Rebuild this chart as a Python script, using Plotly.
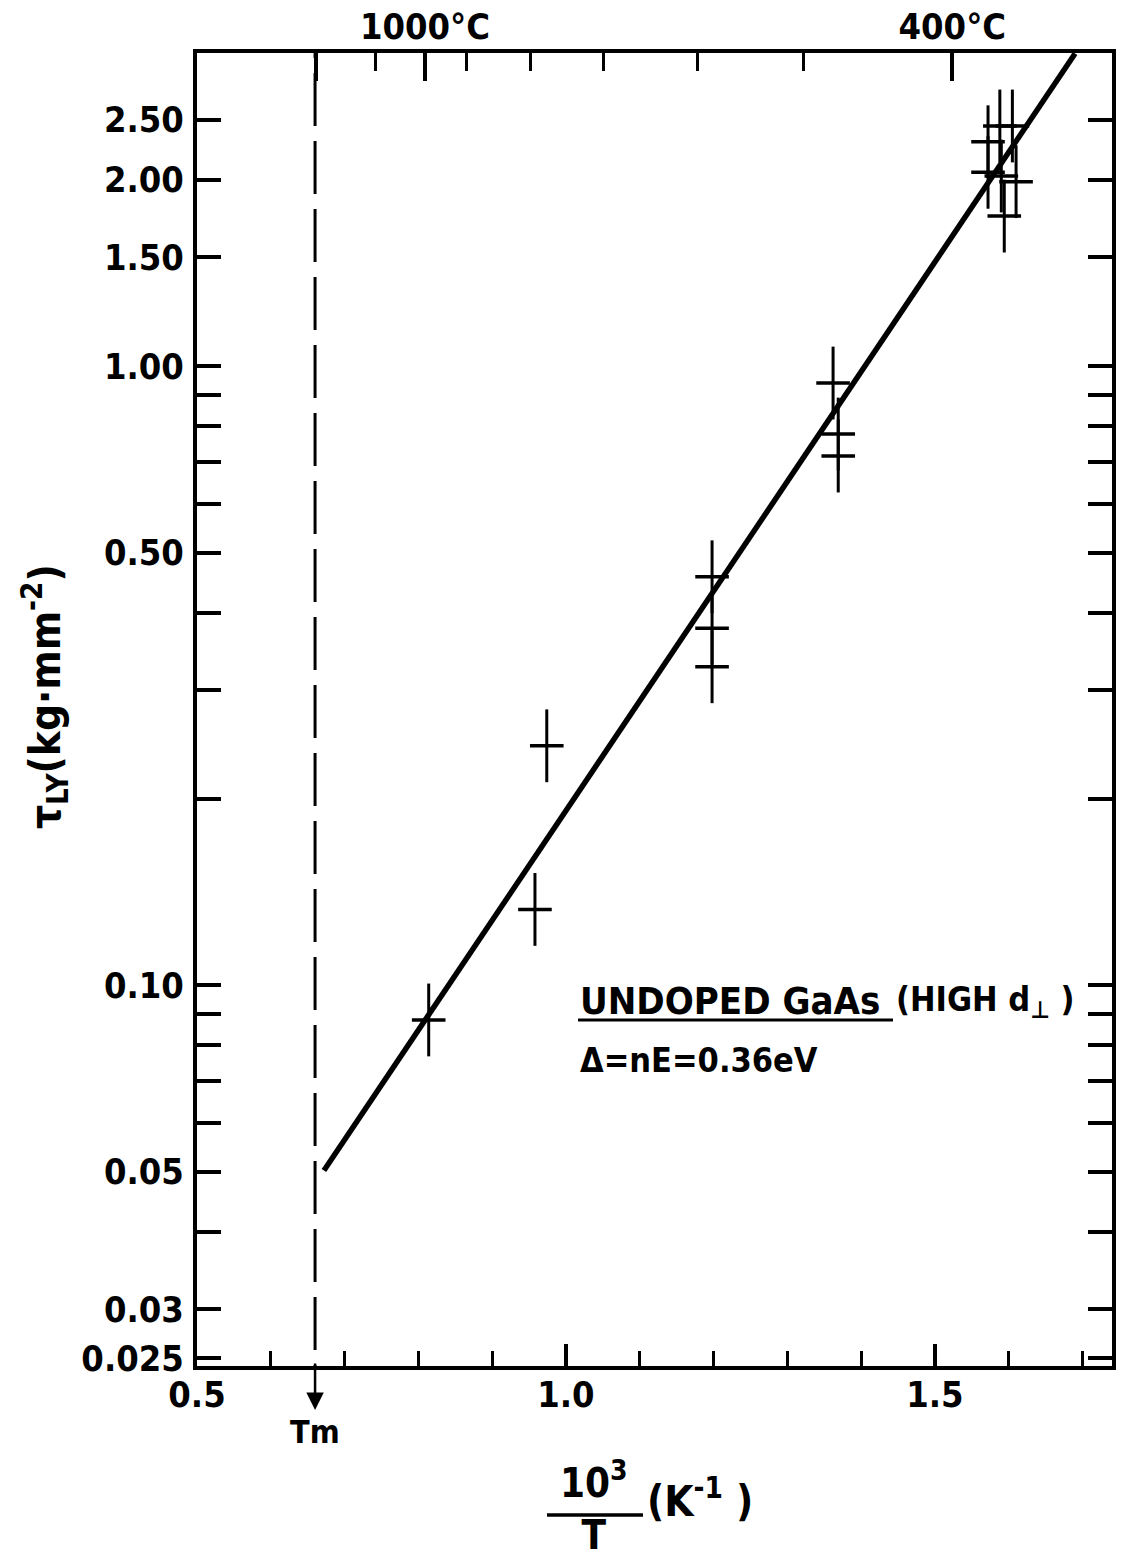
import plotly.graph_objects as go

# ---------------- data ----------------
tm_x = 0.66  # 10^3/T at melting point

point_x = [0.814, 0.958, 0.974,
           1.198, 1.198, 1.198,
           1.362, 1.369, 1.369,
           1.572, 1.572, 1.588, 1.605, 1.610, 1.594, 1.590]
point_y = [0.0879, 0.1326, 0.2437,
           0.457, 0.3773, 0.327,
           0.9395, 0.777, 0.716,
           2.305, 2.057, 2.444, 2.444, 1.987, 1.748, 2.029]

fit_x = [0.672, 1.69]
fit_y = [0.0502, 3.2]

x_major_vals = [0.5, 1.0, 1.5]
x_major_text = ["0.5", "1.0", "1.5"]
x_minor_vals = [0.6, 0.7, 0.8, 0.9, 1.1, 1.2, 1.3, 1.4, 1.6, 1.7]

y_major_vals = [0.025, 0.03, 0.05, 0.1, 0.5, 1.0, 1.5, 2.0, 2.5]
y_major_text = ["0.025", "0.03", "0.05", "0.10", "0.50", "1.00", "1.50", "2.00", "2.50"]
y_minor_vals = [0.04, 0.06, 0.07, 0.08, 0.09, 0.2, 0.3, 0.4, 0.6, 0.7, 0.8, 0.9]

top_major_x = [0.6613, 0.8090, 1.5236]
top_major_text = ["", "1000°C", "400°C"]
top_minor_x = [0.7422, 0.8655, 0.9513, 1.0506, 1.1780, 1.3217]

x_range = [0.5, 1.74]
y_range = [-1.615, 0.506]

FONT = "DejaVu Sans Condensed, Liberation Sans, Arial, sans-serif"
W, H = 1130, 1563
ML, MR, MT, MB = 197, 18, 53, 197
PW, PH = W - ML - MR, H - MT - MB


def px(xpix):
    return (xpix - ML) / PW


def py(ypix):
    return (H - MB - ypix) / PH


fig = go.Figure()

# Tm dashed line
fig.add_trace(go.Scatter(x=[tm_x, tm_x], y=[0.02, 4.0], mode="lines",
                         line=dict(color="black", width=3, dash="53px,15px"),
                         hoverinfo="skip", showlegend=False))
# fitted line
fig.add_trace(go.Scatter(x=fit_x, y=fit_y, mode="lines",
                         line=dict(color="black", width=5.5),
                         showlegend=False))
# error crosses: vertical bars
fig.add_trace(go.Scatter(x=point_x, y=point_y, mode="markers",
                         marker=dict(symbol="line-ns", size=52,
                                     line=dict(color="black", width=3)),
                         showlegend=False))
# horizontal bars
fig.add_trace(go.Scatter(x=point_x, y=point_y, mode="markers",
                         marker=dict(symbol="line-ew", size=24,
                                     line=dict(color="black", width=3.5)),
                         showlegend=False))
# dummy trace for top axis
fig.add_trace(go.Scatter(x=[], y=[], xaxis="x2", yaxis="y", showlegend=False))

tickfont = dict(family=FONT, size=36, color="black", weight=700)

fig.update_layout(
    template="none",
    width=W, height=H,
    margin=dict(l=ML, r=MR, t=MT, b=MB, autoexpand=False),
    paper_bgcolor="white", plot_bgcolor="white",
    showlegend=False,
    xaxis=dict(
        range=x_range, showgrid=False, zeroline=False, automargin=False,
        showline=True, linecolor="black", linewidth=4,
        ticks="inside", ticklen=22, tickwidth=3.5, tickcolor="black",
        tickmode="array", tickvals=x_major_vals, ticktext=x_major_text,
        tickfont=tickfont, ticklabelstandoff=-6,
        minor=dict(tickmode="array", tickvals=x_minor_vals, ticks="inside",
                   ticklen=15, tickwidth=3, tickcolor="black", showgrid=False),
    ),
    xaxis2=dict(
        range=x_range, overlaying="x", side="top", anchor="y", automargin=False,
        showgrid=False, zeroline=False,
        showline=True, linecolor="black", linewidth=4,
        ticks="inside", ticklen=28, tickwidth=3.5, tickcolor="black",
        tickmode="array", tickvals=top_major_x, ticktext=top_major_text,
        tickfont=tickfont, ticklabelstandoff=-4,
        minor=dict(tickmode="array", tickvals=top_minor_x, ticks="inside",
                   ticklen=18, tickwidth=3, tickcolor="black", showgrid=False),
    ),
    yaxis=dict(
        type="log", range=y_range, showgrid=False, zeroline=False, automargin=False,
        showline=True, linecolor="black", linewidth=4, mirror="allticks",
        ticks="inside", ticklen=24, tickwidth=4, tickcolor="black",
        tickmode="array", tickvals=y_major_vals, ticktext=y_major_text,
        tickfont=tickfont, ticklabelstandoff=2,
        minor=dict(tickmode="array", tickvals=y_minor_vals, ticks="inside",
                   ticklen=19, tickwidth=3.5, tickcolor="black", showgrid=False),
    ),
)

bold = lambda s: dict(family=FONT, size=s, color="black", weight=700)

annotations = [
    # Tm arrow
    dict(x=tm_x, xref="x", y=py(1410), yref="paper", text="", showarrow=True,
         ax=0, ay=-48, arrowhead=2, arrowsize=1.4, arrowwidth=2.5, arrowcolor="black"),
    dict(x=tm_x, xref="x", y=py(1432), yref="paper", text="Tm", showarrow=False,
         font=bold(32), xanchor="center", yanchor="middle"),
    # y-axis title
    dict(x=px(45), y=py(697), xref="paper", yref="paper",
         text="τ<sub>LY</sub>(kg·mm<sup>-2</sup>)", textangle=-90, showarrow=False,
         font=bold(42), xanchor="center", yanchor="middle"),
    # x-axis title (fraction: numerator over denominator)
    dict(x=px(594), y=py(1506), xref="paper", yref="paper", text="10<sup>3</sup><br>T",
         showarrow=False, font=bold(40), xanchor="center", yanchor="middle",
         align="center"),
    dict(x=px(645), y=py(1498), xref="paper", yref="paper", text="(K<sup>-1</sup> )",
         showarrow=False, font=bold(42), xanchor="left", yanchor="middle"),
    # legend-like text
    dict(x=px(578), y=py(1001), xref="paper", yref="paper", text="UNDOPED GaAs",
         showarrow=False, font=bold(38), xanchor="left", yanchor="middle"),
    dict(x=px(894), y=py(1001), xref="paper", yref="paper", text="(HIGH d<sub>⊥</sub> )",
         showarrow=False, font=bold(34), xanchor="left", yanchor="middle"),
    dict(x=px(578), y=py(1060), xref="paper", yref="paper", text="Δ=nE=0.36eV",
         showarrow=False, font=bold(34), xanchor="left", yanchor="middle"),
]
fig.update_layout(annotations=annotations)

shapes = [
    # underline under UNDOPED GaAs
    dict(type="line", xref="paper", yref="paper", x0=px(578), x1=px(893),
         y0=py(1020), y1=py(1020), line=dict(color="black", width=3)),
    # fraction bar
    dict(type="line", xref="paper", yref="paper", x0=px(547), x1=px(643),
         y0=py(1515), y1=py(1515), line=dict(color="black", width=3.5)),
]
fig.update_layout(shapes=shapes)

fig.write_html("out.html")
